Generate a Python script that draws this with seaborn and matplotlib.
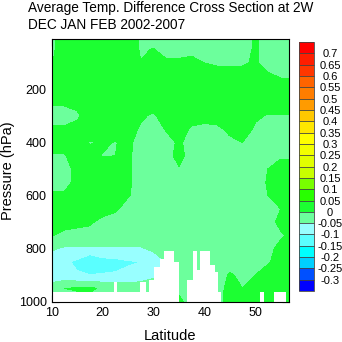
import numpy as np
import pandas as pd
import seaborn as sns
import matplotlib
matplotlib.use("Agg")
import matplotlib.pyplot as plt
from matplotlib.ticker import MultipleLocator, FixedLocator

# ---------------- data ----------------
title_text = "Average Temp. Difference Cross Section at 2W\nDEC JAN FEB 2002-2007"
x_label = "Latitude"
y_label = "Pressure (hPa)"

latitudes = [10, 12.5, 15, 17.5, 20, 22.5, 25, 27.5, 30, 32.5,
             35, 37.5, 40, 42.5, 45, 47.5, 50, 52.5, 55, 57.5]
pressures = [10, 50, 100, 150, 200, 250, 300, 350, 400, 450, 500,
             550, 600, 650, 700, 750, 800, 850, 900, 950, 1000]

# temperature difference (K) per pressure level, one value per latitude
diff_p10 = [-0.02, 0.04, 0.03, 0.03, 0.03, 0.03, 0.045, -0.008, -0.02, -0.025, -0.025, -0.025, -0.025, -0.025, -0.025, -0.03, 0.01, -0.03, -0.025, -0.025]
diff_p50 = [-0.015, 0.04, 0.03, 0.03, 0.03, 0.03, 0.045, -0.008, 0.003, -0.025, -0.025, -0.02, -0.025, -0.025, -0.025, -0.03, 0.01, -0.03, -0.025, -0.025]
diff_p100 = [-0.005, 0.04, 0.03, 0.03, 0.03, 0.03, 0.045, 0.002, 0.03, 0.012, 0.012, 0.02, 0.0, -0.01, -0.01, -0.01, 0.01, -0.025, -0.025, -0.025]
diff_p150 = [0.02, 0.03, 0.03, 0.03, 0.03, 0.03, 0.03, 0.03, 0.03, 0.03, 0.03, 0.03, 0.03, 0.03, 0.03, 0.03, 0.03, 0.01, -0.005, -0.01]
diff_p200 = [0.03, 0.03, 0.03, 0.03, 0.03, 0.03, 0.03, 0.03, 0.03, 0.03, 0.03, 0.03, 0.03, 0.03, 0.03, 0.03, 0.03, 0.03, 0.03, 0.03]
diff_p250 = [0.01, 0.01, 0.015, 0.03, 0.03, 0.03, 0.03, 0.03, 0.03, 0.03, 0.03, 0.03, 0.03, 0.03, 0.03, 0.03, 0.03, 0.03, 0.03, 0.03]
diff_p300 = [-0.03, -0.03, -0.01, 0.03, 0.03, 0.03, 0.03, 0.01, -0.01, 0.03, 0.03, 0.03, 0.02, 0.02, 0.03, 0.03, 0.01, -0.005, -0.005, -0.005]
diff_p350 = [0.01, 0.01, 0.02, 0.03, 0.03, 0.03, 0.03, -0.01, -0.03, 0.005, 0.03, -0.01, -0.015, -0.01, 0.01, 0.03, -0.01, -0.025, -0.025, -0.025]
diff_p400 = [0.03, 0.03, 0.03, -0.005, 0.01, -0.003, 0.015, -0.025, -0.025, -0.025, 0.01, -0.025, -0.025, -0.025, -0.01, 0.0, -0.025, -0.025, -0.025, -0.025]
diff_p450 = [-0.005, -0.005, 0.03, 0.02, -0.003, 0.0, 0.01, -0.025, -0.025, -0.025, 0.02, -0.025, -0.025, -0.025, -0.025, -0.025, -0.025, -0.02, -0.01, -0.01]
diff_p500 = [-0.025, -0.025, 0.02, 0.03, 0.03, 0.03, 0.01, -0.025, -0.025, -0.025, -0.005, -0.025, -0.025, -0.025, -0.025, -0.025, -0.025, 0.0, 0.03, 0.03]
diff_p550 = [-0.025, -0.025, 0.02, 0.03, 0.03, 0.03, 0.01, -0.025, -0.02, -0.025, -0.025, -0.025, -0.025, -0.025, -0.025, -0.025, -0.025, 0.005, 0.03, 0.03]
diff_p600 = [0.01, 0.01, 0.03, 0.03, 0.03, 0.03, 0.005, -0.025, -0.025, -0.025, -0.025, -0.025, -0.025, -0.025, -0.025, -0.025, -0.025, 0.0, 0.02, 0.02]
diff_p650 = [0.03, 0.03, 0.03, 0.03, 0.03, 0.01, -0.025, -0.025, -0.025, -0.025, -0.025, -0.025, -0.025, -0.025, -0.025, -0.025, -0.025, -0.01, 0.0, 0.01]
diff_p700 = [0.03, 0.03, 0.02, 0.01, -0.02, -0.025, -0.025, -0.025, -0.025, -0.025, -0.025, -0.025, -0.025, -0.025, -0.025, -0.025, -0.025, -0.015, 0.01, 0.02]
diff_p750 = [0.005, -0.02, -0.025, -0.025, -0.025, -0.025, -0.025, -0.025, -0.025, -0.025, -0.025, -0.025, -0.025, -0.025, -0.025, -0.025, -0.025, -0.02, -0.005, 0.01]
diff_p800 = [-0.045, -0.055, -0.055, -0.055, -0.055, -0.055, -0.055, -0.055, -0.04, -0.03, -0.025, -0.025, -0.025, -0.025, -0.025, -0.025, -0.025, -0.01, 0.01, 0.02]
diff_p850 = [-0.07, -0.09, -0.11, -0.155, -0.12, -0.115, -0.105, -0.1, -0.08, -0.05, -0.03, -0.025, -0.025, -0.025, -0.02, -0.02, -0.015, -0.005, 0.02, 0.01]
diff_p900 = [-0.07, -0.085, -0.095, -0.098, -0.097, -0.095, -0.09, -0.08, -0.06, -0.04, -0.03, -0.025, -0.025, -0.025, 0.005, -0.01, 0.0, 0.02, 0.03, 0.03]
diff_p950 = [-0.035, 0.0, 0.005, 0.01, -0.01, -0.02, -0.02, -0.02, -0.02, -0.025, -0.01, -0.025, -0.025, -0.025, 0.02, 0.0, 0.01, 0.02, 0.02, 0.03]
diff_p1000 = [-0.02, -0.02, -0.02, -0.02, -0.02, -0.02, -0.02, -0.02, -0.02, -0.02, 0.01, -0.02, -0.02, -0.02, 0.02, 0.01, 0.01, 0.03, 0.03, 0.03]

# surface (terrain / missing data) pressure by latitude band
terrain_lat = [10, 22.2, 22.8, 27.4, 28.6, 29.2, 30.2, 31.2, 32.0, 34.0, 35.0, 36.6,
               37.8, 38.5, 39.2, 41.2, 42.0, 42.6, 43.2, 51.0, 51.8, 53.6, 56.0, 57.0]
terrain_p = [965, 926, 965, 926, 965, 920, 870, 840, 808, 850, 1000, 920,
             808, 880, 808, 860, 890, 965, 1000, 965, 1000, 965, 1000, 1000]

levels = [-0.3, -0.25, -0.2, -0.15, -0.1, -0.05, 0.0, 0.05, 0.1, 0.15, 0.2,
          0.25, 0.3, 0.35, 0.4, 0.45, 0.5, 0.55, 0.6, 0.65, 0.7]
level_labels = ["-0.3", "-0.25", "-0.2", "-0.15", "-0.1", "-0.05", "0", "0.05", "0.1",
                "0.15", "0.2", "0.25", "0.3", "0.35", "0.4", "0.45", "0.5", "0.55",
                "0.6", "0.65", "0.7"]
fill_colors = ["#0000ff", "#0050ff", "#00d0ff", "#00ffff", "#5affff", "#98ffff",
               "#6cff9c", "#1cff32", "#28ff00", "#78ff00", "#c8ff00", "#e1ff00",
               "#f2ff00", "#ffff00", "#ffe600", "#ffc800", "#ff9b00", "#ff7d00",
               "#ff6400", "#ff3700", "#ff1e00", "#ff0000"]

x_ticks = [10, 20, 30, 40, 50]
y_ticks = [200, 400, 600, 800, 1000]

# ---------------- build table ----------------
rows = [diff_p10, diff_p50, diff_p100, diff_p150, diff_p200, diff_p250, diff_p300,
        diff_p350, diff_p400, diff_p450, diff_p500, diff_p550, diff_p600, diff_p650,
        diff_p700, diff_p750, diff_p800, diff_p850, diff_p900, diff_p950, diff_p1000]
grid = pd.DataFrame(rows, index=pressures, columns=latitudes)

# ---------------- style ----------------
sns.set_theme(style="ticks")
plt.rcParams['font.family'] = ['Liberation Sans', 'DejaVu Sans']
plt.rcParams['axes.edgecolor'] = 'black'
plt.rcParams['text.color'] = 'black'
plt.rcParams['xtick.color'] = 'black'
plt.rcParams['ytick.color'] = 'black'
plt.rcParams['axes.labelcolor'] = 'black'

fig = plt.figure(figsize=(3.42, 3.42), dpi=100)
fig.patch.set_facecolor('white')
ax = fig.add_axes([0.151, 0.118, 0.695, 0.768])

cf = ax.contourf(grid.columns.values, grid.index.values, grid.values,
                 levels=levels, colors=fill_colors, extend='both')
ax.fill_between(terrain_lat, terrain_p, 1000, step='post', color='white',
                linewidth=0, zorder=2)

ax.set_xlim(10, 56.7)
ax.set_ylim(1000, 10)
ax.xaxis.set_major_locator(FixedLocator(x_ticks))
ax.xaxis.set_minor_locator(MultipleLocator(2))
ax.yaxis.set_major_locator(FixedLocator(y_ticks))
ax.yaxis.set_minor_locator(MultipleLocator(50))
ax.tick_params(which='both', direction='in', top=True, right=True, width=0.8,
               labelsize=9, pad=3.5)
ax.tick_params(which='major', length=5)
ax.tick_params(which='minor', length=3)
for s in ax.spines.values():
    s.set_linewidth(0.8)
    s.set_color('black')
    s.set_zorder(5)

ax.set_xlabel(x_label, fontsize=10.5)
ax.xaxis.set_label_coords(0.5, -0.105)
ax.set_ylabel(y_label, fontsize=10.5)
ax.yaxis.set_label_coords(-0.155, 0.5)

fig.text(0.082, 0.997, title_text, ha='left', va='top', fontsize=9.8,
         linespacing=1.3)

# colour bar
cax = fig.add_axes([0.874, 0.149, 0.044, 0.728])
cb = fig.colorbar(cf, cax=cax, extend='both', extendrect=True,
                  extendfrac=0.05, drawedges=True, ticks=levels)
cb.ax.set_yticklabels(level_labels)
cb.ax.tick_params(length=0, labelsize=8, pad=11.5)
for lbl in cb.ax.get_yticklabels():
    lbl.set_horizontalalignment('center')
cb.outline.set_linewidth(0.6)
cb.outline.set_edgecolor('#444444')
cb.dividers.set_linewidth(0.6)
cb.dividers.set_color('#444444')

fig.savefig("out.png", dpi=100, facecolor='white')
